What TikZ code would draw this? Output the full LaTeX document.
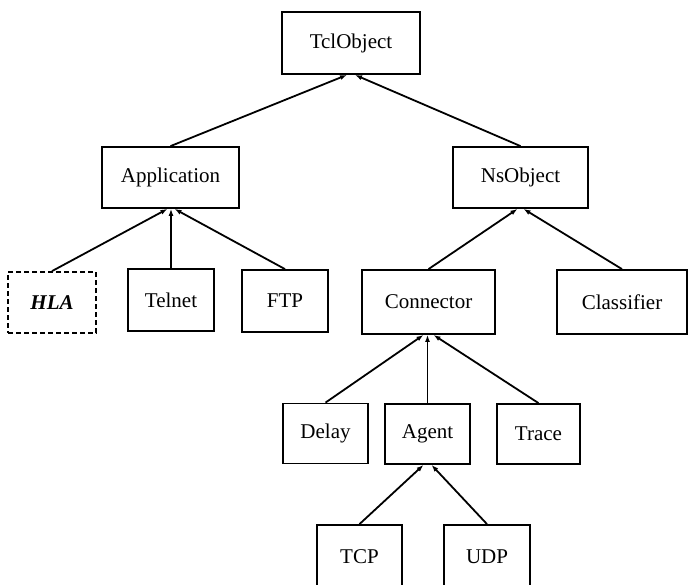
\documentclass[tikz,border=0pt]{standalone}
\usepackage{fontspec}
\setmainfont{Liberation Serif}
\usetikzlibrary{arrows.meta}
\tikzset{
  cls/.style={draw, line width=1.8pt, inner sep=0pt, font=\fontsize{21}{25}\selectfont},
  dashcls/.style={cls, dashed, dash pattern=on 5pt off 3pt},
  inherit/.style={line width=1.8pt, -{Latex[length=7pt,width=5pt]}}
}
\begin{document}
\begin{tikzpicture}[x=1pt,y=-1pt]
\useasboundingbox (0,0) rectangle (688,584);
% class boxes
\node[cls, minimum width=138pt, minimum height=62pt] (tcl) at (351,43) {TclObject};
\node[cls, minimum width=137pt, minimum height=61pt] (app) at (170.5,177.5) {Application};
\node[cls, minimum width=135pt, minimum height=61pt] (ns) at (520.5,177.5) {NsObject};
\node[dashcls, minimum width=88pt, minimum height=61pt] (hla) at (52,302.5) {\textbf{\textit{HLA}}};
\node[cls, minimum width=86pt, minimum height=62pt] (telnet) at (171,300) {Telnet};
\node[cls, minimum width=86pt, minimum height=62pt] (ftp) at (285,301) {FTP};
\node[cls, minimum width=133pt, minimum height=64pt] (conn) at (428.5,302) {Connector};
\node[cls, minimum width=130pt, minimum height=64pt] (classif) at (622,302) {Classifier};
\node[cls, minimum width=85pt, minimum height=60pt] (delay) at (325.5,433.5) {Delay};
\node[cls, minimum width=85pt, minimum height=60pt] (agent) at (427.5,434) {Agent};
\node[cls, minimum width=83pt, minimum height=60pt] (trace) at (538.5,434) {Trace};
\node[cls, minimum width=85pt, minimum height=64pt] (tcp) at (359.5,557) {TCP};
\node[cls, minimum width=86pt, minimum height=64pt] (udp) at (487,557) {UDP};
% inheritance links, child to parent
\draw[inherit] (app.north) -- ([xshift=-4pt]tcl.south);
\draw[inherit] (ns.north) -- ([xshift=4pt]tcl.south);
\draw[inherit] (hla.north) -- ([xshift=-3pt]app.south);
\draw[inherit] (telnet.north) -- (telnet.north |- app.south);
\draw[inherit] (ftp.north) -- ([xshift=4pt]app.south);
\draw[inherit] (conn.north) -- ([xshift=-3pt]ns.south);
\draw[inherit] (classif.north) -- ([xshift=3pt]ns.south);
\draw[inherit] (delay.north) -- ([xshift=-5pt]conn.south);
\draw[inherit] (agent.north) -- (agent.north |- conn.south);
\draw[inherit] (trace.north) -- ([xshift=5pt]conn.south);
\draw[inherit] (tcp.north) -- ([xshift=-4pt]agent.south);
\draw[inherit] (udp.north) -- ([xshift=4pt]agent.south);
\end{tikzpicture}
\end{document}
